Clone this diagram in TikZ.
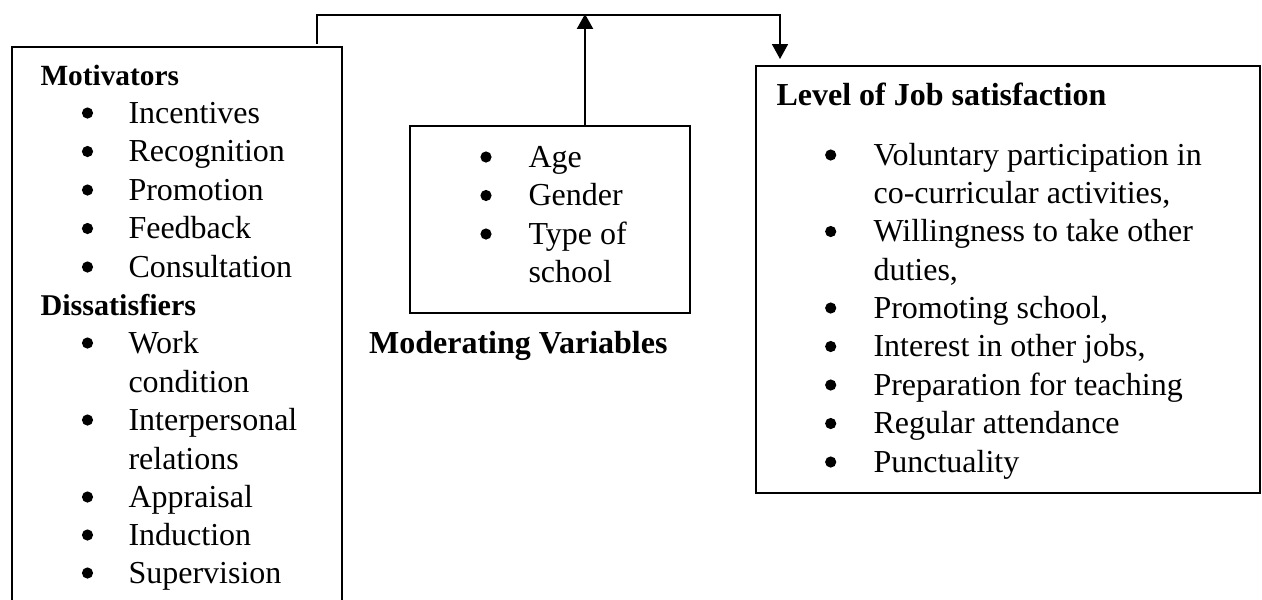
\documentclass[tikz,border=0pt]{standalone}
\usepackage{fontspec}
\setmainfont{Liberation Serif}
\usetikzlibrary{arrows.meta,fit}
\begin{document}
\begin{tikzpicture}[x=0.375pt,y=-0.375pt,
  box/.style={draw,line width=0.75pt,inner sep=0pt},
  txt/.style={anchor=base west,inner sep=0pt,font=\fontsize{12}{14}\selectfont},
  hd/.style={anchor=base west,inner sep=0pt,font=\fontsize{12}{14}\selectfont\bfseries},
  link/.style={line width=0.55pt},
  tipped/.style={-{Triangle[width=6pt,length=5.6pt]}}]
\useasboundingbox (0,0) rectangle (1262,599);
\clip (0,0) rectangle (1262,599);
\newcommand\bulletat[2]{\fill (#1,#2-10) circle[radius=2.1pt];}
% boxes
\node[box,fit={(12,47) (342,640)}] (left) {};
\node[box,fit={(410,126) (690,313)}] (mid) {};
\node[box,fit={(756,66) (1260,493)}] (right) {};
% left box text
\node[hd,font=\fontsize{11}{13}\selectfont\bfseries] (mot) at (40,85) {Motivators};
\node[txt] (l1) at (128,123) {Incentives}; \bulletat{87.5}{123}
\node[txt] (l2) at (128,161.5) {Recognition}; \bulletat{87.5}{161.5}
\node[txt] (l3) at (128,200) {Promotion}; \bulletat{87.5}{200}
\node[txt] (l4) at (128,238.5) {Feedback}; \bulletat{87.5}{238.5}
\node[txt] (l5) at (128,277) {Consultation}; \bulletat{87.5}{277}
\node[hd,font=\fontsize{11.3}{13}\selectfont\bfseries] (dis) at (40,315) {Dissatisfiers};
\node[txt] (d1) at (128,353) {Work}; \bulletat{87.5}{353}
\node[txt] (d1b) at (128,392) {condition};
\node[txt] (d2) at (128,430) {Interpersonal}; \bulletat{87.5}{430}
\node[txt] (d2b) at (128,469) {relations};
\node[txt] (d3) at (128,507) {Appraisal}; \bulletat{87.5}{507}
\node[txt] (d4) at (128,545) {Induction}; \bulletat{87.5}{545}
\node[txt] (d5) at (128,583) {Supervision}; \bulletat{87.5}{583}
% middle box text
\node[txt] (m1) at (528,167) {Age}; \bulletat{486}{167}
\node[txt] (m2) at (528,205.5) {Gender}; \bulletat{486}{205.5}
\node[txt] (m3) at (528,244) {Type of}; \bulletat{486}{244}
\node[txt] (m3b) at (528,282.5) {school};
\node[hd,anchor=base east] (modv) at (668,353) {Moderating Variables};
% right box text
\node[hd] (lev) at (776,105) {Level of Job satisfaction};
\node[txt] (r1) at (873,165) {Voluntary participation in}; \bulletat{830.7}{165}
\node[txt] (r1b) at (873,203.5) {co-curricular activities,};
\node[txt] (r2) at (873,241.5) {Willingness to take other}; \bulletat{830.7}{241.5}
\node[txt] (r2b) at (873,280) {duties,};
\node[txt] (r3) at (873,318) {Promoting school,}; \bulletat{830.7}{318}
\node[txt] (r4) at (873,356.5) {Interest in other jobs,}; \bulletat{830.7}{356.5}
\node[txt] (r5) at (873,395) {Preparation for teaching}; \bulletat{830.7}{395}
\node[txt] (r6) at (873,433.5) {Regular attendance}; \bulletat{830.7}{433.5}
\node[txt] (r7) at (873,472) {Punctuality}; \bulletat{830.7}{472}
% connectors
\coordinate (ls) at (317,44);
\coordinate (lt) at (317,15);
\coordinate (rt) at (780,15);
\coordinate (ma) at (585,14);
\draw[link,tipped,shorten >=2.25pt] (ls) -- (lt) -- (rt) -- (rt |- right.north);
\draw[line width=0.8pt,tipped] (ma |- mid.north) -- (ma);
\end{tikzpicture}
\end{document}
